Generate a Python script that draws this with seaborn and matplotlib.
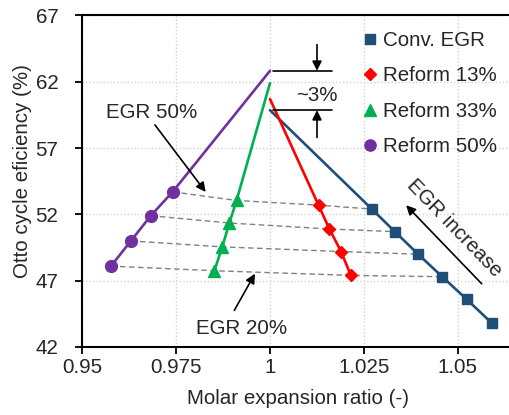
import matplotlib
matplotlib.use("Agg")
import matplotlib.pyplot as plt
import seaborn as sns
from matplotlib.lines import Line2D

# Molar expansion ratio / Otto cycle efficiency for each EGR level (markers)
conv_ratio = [1.0271, 1.0332, 1.0394, 1.0458, 1.0523, 1.0590]
conv_eff = [52.4, 50.7, 49.0, 47.3, 45.6, 43.8]
r13_ratio = [1.0129, 1.0158, 1.0189, 1.0215]
r13_eff = [52.7, 50.9, 49.2, 47.4]
r33_ratio = [0.9911, 0.9892, 0.9873, 0.9852]
r33_eff = [53.05, 51.35, 49.55, 47.75]
r50_ratio = [0.9741, 0.9683, 0.9630, 0.9577]
r50_eff = [53.7, 51.9, 50.0, 48.1]

# Ideal (no dilution) end point of each curve
peak_ratio = 1.0
conv_peak, r13_peak, r33_peak, r50_peak = 59.86, 60.7, 61.9, 62.83

labels = ["Conv. EGR", "Reform 13%", "Reform 33%", "Reform 50%"]
colors = ["#1F4E79", "#FF0000", "#00B050", "#7030A0"]
markers = ["s", "D", "^", "o"]
msizes = [7.0, 6.2, 8.5, 8.5]

x_ticks = [0.95, 0.975, 1.0, 1.025, 1.05]
x_ticklabels = ["0.95", "0.975", "1", "1.025", "1.05"]
y_ticks = [42, 47, 52, 57, 62, 67]

sns.set_style("white")
plt.rcParams["font.family"] = ["Liberation Sans", "DejaVu Sans"]
FS = 14.8

fig = plt.figure(figsize=(5.09, 4.15), dpi=100)
ax = fig.add_axes([82 / 509, 68 / 415, 427 / 509, 331.5 / 415])

ax.set_xlim(0.95, 0.95 + 427 / 3760)
ax.set_ylim(42, 67)
ax.set_xticks(x_ticks)
ax.set_xticklabels(x_ticklabels)
ax.set_yticks(y_ticks)
ax.grid(True, linestyle=(0, (1, 1.5)), color="#d2d2d2", linewidth=1.0, zorder=0)
ax.set_axisbelow(True)

# dashed links between equal-EGR points across the fuel strategies
series_pts = [(r50_ratio, r50_eff), (r33_ratio, r33_eff),
              (r13_ratio, r13_eff), (conv_ratio, conv_eff)]
for i in range(4):
    xs = [s[0][i] for s in series_pts]
    ys = [s[1][i] for s in series_pts]
    sns.lineplot(x=xs, y=ys, sort=False, estimator=None, ax=ax,
                 color="#808080", linewidth=1.0, linestyle=(0, (4, 2.5)), zorder=2)

series = [
    (conv_ratio, conv_eff, conv_peak),
    (r13_ratio, r13_eff, r13_peak),
    (r33_ratio, r33_eff, r33_peak),
    (r50_ratio, r50_eff, r50_peak),
]
for (xr, ye, pk), c, m, ms in zip(series, colors, markers, msizes):
    xs = [peak_ratio] + list(xr)
    ys = [pk] + list(ye)
    sns.lineplot(x=xs, y=ys, sort=False, estimator=None, ax=ax, color=c,
                 linewidth=1.9, marker=m, markersize=ms,
                 markevery=list(range(1, len(xs))),
                 markeredgecolor=c, markerfacecolor=c, markeredgewidth=1.0,
                 zorder=3)

# legend with marker-only handles
handles = [Line2D([], [], linestyle="none", marker=m, color=c, markersize=ms * 0.95,
                  markeredgecolor=c) for c, m, ms in zip(colors, markers, msizes)]
ax.legend(handles, labels, loc="upper left",
          bbox_to_anchor=((362 - 82) / 427, (347 - 31) / 331.5),
          frameon=False, fontsize=FS, handlelength=0.8, handletextpad=0.2,
          borderpad=0, borderaxespad=0, labelspacing=0.8)

arrow = dict(arrowstyle="-|>", color="black", lw=1.2, mutation_scale=14,
             shrinkA=0, shrinkB=0)

# ~3% efficiency gap between the ideal end points
for yv in (r50_peak, conv_peak):
    sns.lineplot(x=[1.0008, 1.0165], y=[yv, yv], ax=ax, color="black",
                 linewidth=1.2, estimator=None, zorder=4)
ax.annotate("", xy=(1.0125, r50_peak), xytext=(1.0125, 64.8), arrowprops=arrow)
ax.annotate("", xy=(1.0125, conv_peak), xytext=(1.0125, 57.8), arrowprops=arrow)
ax.text(1.0124, 61.0, "~3%", fontsize=FS, ha="center", va="center")

ax.text(0.9685, 59.7, "EGR 50%", fontsize=FS, ha="center", va="center")
ax.annotate("", xy=(0.9829, 53.69), xytext=(0.9694, 58.75), arrowprops=arrow)

ax.annotate("", xy=(0.9960, 47.53), xytext=(0.9905, 44.76), arrowprops=arrow)
ax.text(0.9925, 43.37, "EGR 20%", fontsize=FS, ha="center", va="center")

ax.annotate("", xy=(1.0362, 52.69), xytext=(1.0563, 46.77), arrowprops=arrow)
ax.text(1.0489, 51.0, "EGR increase", fontsize=FS, ha="center", va="center",
        rotation=-46, rotation_mode="anchor")

ax.set_xlabel("Molar expansion ratio (-)", fontsize=FS)
ax.set_ylabel("Otto cycle eficiency (%)", fontsize=FS)
ax.xaxis.set_label_coords(0.507, -0.128)
ax.yaxis.set_label_coords(-0.118, 0.53)

ax.tick_params(axis="both", labelsize=FS, direction="out", length=5, width=1.3,
               color="black", bottom=True, left=True)
ax.tick_params(axis="y", pad=12)
ax.tick_params(axis="x", pad=3)
for side in ("left", "bottom", "top"):
    ax.spines[side].set_visible(True)
    ax.spines[side].set_color("black")
    ax.spines[side].set_linewidth(1.5)
ax.spines["right"].set_visible(False)

fig.savefig("out.png", dpi=100)
